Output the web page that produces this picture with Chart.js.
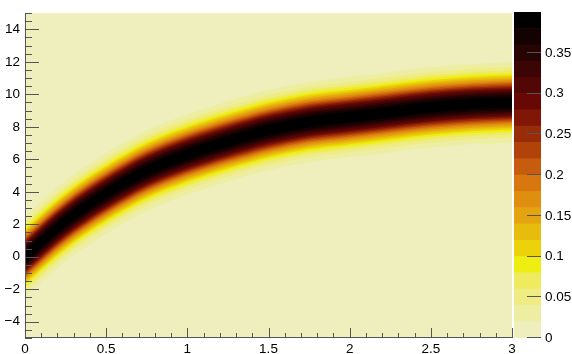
<!DOCTYPE html>
<html>
<head>
<meta charset="utf-8">
<script src="https://cdn.jsdelivr.net/npm/chart.js@4.4.1/dist/chart.umd.min.js"></script>
<style>
  html, body { margin: 0; padding: 0; background: #fff; }
  #wrap { position: relative; width: 572px; height: 354px; }
  #main { position: absolute; left: 0; top: 0; }
  #zbar { position: absolute; left: 514px; top: 0; }
</style>
</head>
<body>
<div id="wrap">
  <canvas id="main" width="572" height="354"></canvas>
  <canvas id="zbar" width="58" height="354"></canvas>
</div>
<script>
// centre of the band (y) read along x
const bandX      = [0, 0.25, 0.5, 0.75, 1, 1.25, 1.5, 1.75, 2, 2.25, 2.5, 2.75, 3];
const bandCenter = [0, 2.2, 3.9, 5.3, 6.3, 7.1, 7.8, 8.3, 8.6, 8.9, 9.2, 9.4, 9.5];

// z colour level edges
const zLevels = [0, 0.02, 0.04, 0.06, 0.08, 0.10, 0.12, 0.14, 0.16, 0.18, 0.20,
                 0.22, 0.24, 0.26, 0.28, 0.30, 0.32, 0.34, 0.36, 0.38, 0.40];

// half height (in y) of the region above each inner level 0.02 .. 0.38
const halfWidth = [2.48, 2.16, 1.96, 1.80, 1.67, 1.56, 1.46, 1.36, 1.27, 1.19,
                   1.10, 1.02, 0.94, 0.85, 0.77, 0.67, 0.58, 0.46, 0.32];

const xTicks = [0, 0.5, 1, 1.5, 2, 2.5, 3];
const yTicks = [-4, -2, 0, 2, 4, 6, 8, 10, 12, 14];
const zTicks = [0, 0.05, 0.1, 0.15, 0.2, 0.25, 0.3, 0.35];

// one colour per z level, low to high
const palette = [
  '#efefbd', '#eeeea2', '#eeec82', '#eeec5e', '#eeee12',
  '#ecd20a', '#e8bc0c', '#e4a410', '#e08e10', '#d87610',
  '#c85c0e', '#b0420a', '#982c08', '#801606', '#680804',
  '#520606', '#3c0505', '#280303', '#140202', '#000000'
];

const AXIS = '#555';
Chart.defaults.font.family = "'Liberation Sans', Arial, Helvetica, sans-serif";
Chart.defaults.font.size = 13.5;
Chart.defaults.color = '#000';

function fmt(v) {
  return v < 0 ? '\u2212' + (-v) : String(v);
}

// build band fills: upper edge fills down to its lower edge
const datasets = [];
halfWidth.forEach((w, i) => {
  const lowIdx = datasets.length + 1;
  datasets.push({
    data: bandX.map((x, j) => ({ x: x, y: bandCenter[j] + w })),
    fill: lowIdx,
    backgroundColor: palette[i + 1],
    order: 100 - i,
  });
  datasets.push({
    data: bandX.map((x, j) => ({ x: x, y: bandCenter[j] - w })),
    fill: false,
    order: 100 - i,
  });
});

const rootAxes = {
  id: 'rootAxes',
  beforeDatasetsDraw(chart) {
    const { ctx, chartArea: a } = chart;
    ctx.save();
    ctx.fillStyle = palette[0];
    ctx.fillRect(a.left, a.top, a.right - a.left, a.bottom - a.top);
    ctx.restore();
  },
  afterDatasetsDraw(chart) {
    const { ctx, chartArea: a } = chart;
    const x = chart.scales.x, y = chart.scales.y;
    ctx.save();
    ctx.strokeStyle = AXIS;
    ctx.lineWidth = 1;
    ctx.beginPath();
    ctx.moveTo(a.left + 0.5, a.top);
    ctx.lineTo(a.left + 0.5, a.bottom);
    ctx.moveTo(a.left, a.bottom - 0.5);
    ctx.lineTo(a.right, a.bottom - 0.5);
    for (let k = 0; k <= 30; k++) {
      const px = Math.round(x.getPixelForValue(k / 10)) + 0.5;
      const len = k % 5 === 0 ? 10 : 5;
      ctx.moveTo(px, a.bottom);
      ctx.lineTo(px, a.bottom - len);
    }
    for (let k = -10; k <= 30; k++) {
      const py = Math.round(y.getPixelForValue(k / 2)) + 0.5;
      const len = k % 4 === 0 ? 14 : 7;
      ctx.moveTo(a.left, py);
      ctx.lineTo(a.left + len, py);
    }
    ctx.stroke();
    ctx.restore();
  }
};

new Chart(document.getElementById('main'), {
  type: 'line',
  data: { datasets: datasets },
  options: {
    responsive: false,
    animation: false,
    layout: { padding: { top: 8, right: 60, left: 0, bottom: 0 } },
    plugins: { legend: { display: false }, tooltip: { enabled: false } },
    elements: {
      point: { radius: 0 },
      line: { borderWidth: 0, borderColor: 'transparent', cubicInterpolationMode: 'monotone' },
    },
    scales: {
      x: {
        type: 'linear', min: 0, max: 3,
        afterFit: s => { s.height = 16; },
        afterBuildTicks: s => { s.ticks = xTicks.map(v => ({ value: v })); },
        grid: { display: false, drawTicks: false }, border: { display: false },
        ticks: { padding: 3, maxRotation: 0, autoSkip: false, callback: v => fmt(v) },
      },
      y: {
        type: 'linear', min: -5, max: 15,
        afterFit: s => { s.width = 25; },
        afterBuildTicks: s => { s.ticks = yTicks.map(v => ({ value: v })); },
        grid: { display: false, drawTicks: false }, border: { display: false },
        ticks: { padding: 5, autoSkip: false, callback: v => fmt(v) },
      }
    }
  },
  plugins: [rootAxes]
});

const zAxisTicks = {
  id: 'zAxisTicks',
  afterDatasetsDraw(chart) {
    const { ctx, chartArea: a } = chart;
    const y = chart.scales.y;
    ctx.save();
    ctx.strokeStyle = AXIS;
    ctx.lineWidth = 1;
    ctx.beginPath();
    zTicks.forEach(v => {
      const py = Math.round(y.getPixelForValue(v)) - 0.5;
      ctx.moveTo(a.right, py);
      ctx.lineTo(a.right - 14, py);
    });
    ctx.stroke();
    ctx.restore();
  }
};

new Chart(document.getElementById('zbar'), {
  type: 'bar',
  data: {
    labels: [''],
    datasets: palette.map((c, i) => ({
      data: [zLevels[i + 1] - zLevels[i]],
      backgroundColor: c,
    }))
  },
  options: {
    responsive: false,
    animation: false,
    layout: { padding: { top: 7, bottom: 16, left: 0, right: 0 } },
    plugins: { legend: { display: false }, tooltip: { enabled: false } },
    datasets: { bar: { barPercentage: 1, categoryPercentage: 1, borderWidth: 0 } },
    scales: {
      x: { stacked: true, display: false },
      y: {
        stacked: true, position: 'right', min: 0, max: 0.4,
        afterFit: s => { s.width = 31; },
        afterBuildTicks: s => { s.ticks = zTicks.map(v => ({ value: v })); },
        grid: { display: false, drawTicks: false }, border: { display: false },
        ticks: { padding: 4, autoSkip: false, callback: v => String(v) },
      }
    }
  },
  plugins: [zAxisTicks]
});
</script>
</body>
</html>
